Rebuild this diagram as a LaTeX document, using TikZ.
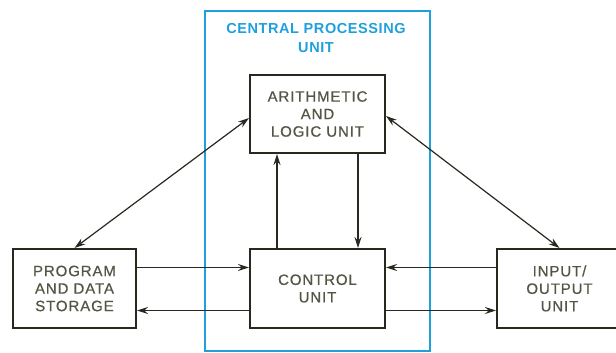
\documentclass[tikz,border=0pt]{standalone}
\usepackage{fontspec}
\usepackage{xcolor}
\usepackage{tikz}
\usetikzlibrary{arrows.meta,positioning}

\newfontfamily\blocklabel[LetterSpace=6,FakeBold=0.6]{Liberation Sans}
\newfontfamily\cpulabel[LetterSpace=4]{Liberation Sans}
\definecolor{cpublue}{RGB}{30,160,220}
\definecolor{inkline}{RGB}{40,40,30}
\definecolor{inktext}{RGB}{85,85,70}

\begin{document}
\begin{tikzpicture}[
    x=1pt, y=1pt,
    font=\blocklabel\fontsize{15}{17.5}\selectfont,
    box/.style={draw=inkline, line width=2pt, fill=white, text=inktext,
                minimum height=79pt, align=center, inner sep=2pt},
    flow/.style={-{Stealth[length=11pt,width=7pt]}, draw=inkline, line width=1.2pt},
    both/.style={{Stealth[length=11pt,width=7pt]}-{Stealth[length=11pt,width=7pt]},
                 draw=inkline, line width=1.2pt}
  ]
    \useasboundingbox (0,0) rectangle (616,353);

    % central processing unit frame
    \draw[cpublue, line width=2.6pt] (205,2) rectangle (430,342);
    \node[text=cpublue, align=center, font=\cpulabel\bfseries\fontsize{14.5}{19}\selectfont]
      (cputitle) at (316,315) {CENTRAL PROCESSING\\UNIT};

    \node[box, minimum width=135pt] (cu) at (317.5,64.5) {CONTROL\\UNIT};
    \node[box, minimum width=135pt, minimum height=78pt, above=94pt of cu] (alu)
      {ARITHMETIC\\AND\\LOGIC UNIT};
    \node[box, minimum width=123pt, left=112pt of cu]  (prog) {PROGRAM\\AND DATA\\STORAGE};
    \node[box, minimum width=125pt, right=110pt of cu] (io)   {INPUT/\\OUTPUT\\UNIT};

    \draw[flow] ([yshift=21pt]prog.east) -- ([yshift=21pt]cu.west);
    \draw[flow] ([yshift=-22pt]cu.west)  -- ([yshift=-22pt]prog.east);
    \draw[flow] ([yshift=21pt]io.west)   -- ([yshift=21pt]cu.east);
    \draw[flow] ([yshift=-22pt]cu.east)  -- ([yshift=-22pt]io.west);
    \draw[flow] ([xshift=-40.5pt]cu.north) -- ([xshift=-40.5pt]alu.south);
    \draw[flow] ([xshift=40.5pt]alu.south) -- ([xshift=40.5pt]cu.north);

    \draw[both] (prog.north) -- ([yshift=-4pt]alu.west);
    \draw[both] ([yshift=-2pt]alu.east) -- (io.north);
  \end{tikzpicture}
\end{document}
